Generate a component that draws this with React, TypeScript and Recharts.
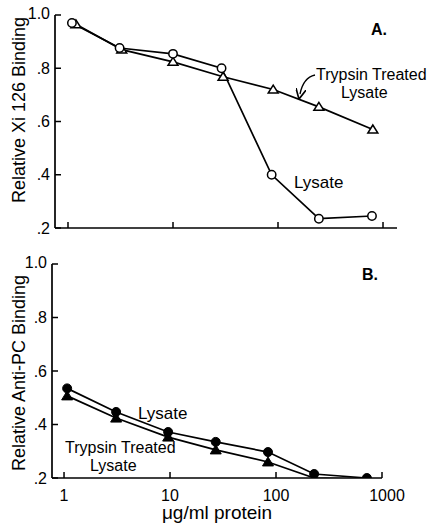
import React from "react";
import { LineChart, Line, XAxis, YAxis } from "recharts";

const xTicks = [1, 10, 100, 1000];
const yTicks = [0.2, 0.4, 0.6, 0.8, 1.0];
const yTickLabels = [".2", ".4", ".6", ".8", "1.0"];

const concALysate = [1.09, 3.1, 10, 29, 87, 245, 785];
const bindALysate = [0.97, 0.876, 0.854, 0.8, 0.4, 0.235, 0.245];
const concATrypsin = [1.19, 3.25, 10, 30, 90, 245, 800];
const bindATrypsin = [0.965, 0.87, 0.824, 0.768, 0.72, 0.655, 0.57];

const concB = [1.07, 3.1, 9.6, 27, 84, 229, 720];
const bindBLysate = [0.535, 0.447, 0.372, 0.335, 0.297, 0.215, 0.2];
const bindBTrypsin = [0.507, 0.424, 0.353, 0.305, 0.26, 0.2, 0.195];

const zip = (xs: number[], ys: number[]) => xs.map((x, i) => ({ x, y: ys[i] }));

const FONT = "'Liberation Sans', Arial, sans-serif";
const SW = 1.7;

const OpenCircle = (p: any) =>
  p.cx == null ? null : (
    <circle cx={p.cx} cy={p.cy} r={4.2} fill="#fff" stroke="#000" strokeWidth={1.5} />
  );
const OpenTriangle = (p: any) =>
  p.cx == null ? null : (
    <polygon
      points={`${p.cx},${p.cy - 4.5} ${p.cx - 5},${p.cy + 3.5} ${p.cx + 5},${p.cy + 3.5}`}
      fill="#fff"
      stroke="#000"
      strokeWidth={1.5}
    />
  );
const FilledCircle = (p: any) =>
  p.cx == null ? null : <circle cx={p.cx} cy={p.cy} r={4.5} fill="#000" stroke="#000" />;
const FilledTriangle = (p: any) =>
  p.cx == null ? null : (
    <polygon
      points={`${p.cx},${p.cy - 5} ${p.cx - 5.5},${p.cy + 4} ${p.cx + 5.5},${p.cy + 4}`}
      fill="#000"
      stroke="#000"
    />
  );

const YTick = (p: any) => {
  const v = p.payload.value;
  const i = yTicks.findIndex((t) => Math.abs(t - v) < 1e-6);
  return (
    <g>
      <line x1={p.x} y1={p.y} x2={p.x + 6} y2={p.y} stroke="#000" strokeWidth={1.5} />
      <text
        x={p.x - 5}
        y={p.y + (v === 1 ? -2 : 0)}
        textAnchor="end"
        dominantBaseline="central"
        fontSize={16}
        fontFamily={FONT}
        fill="#000"
      >
        {yTickLabels[i]}
      </text>
    </g>
  );
};

const XTickA = (p: any) => (
  <line x1={p.x} y1={p.y} x2={p.x} y2={p.y - 6} stroke="#000" strokeWidth={1.5} />
);
const XTickB = (p: any) => (
  <g>
    <line x1={p.x} y1={p.y} x2={p.x} y2={p.y - 6} stroke="#000" strokeWidth={1.5} />
    <text
      x={p.x + (p.payload.value === 1000 ? 5 : 0)}
      y={p.y + 17}
      textAnchor="middle"
      dominantBaseline="central"
      fontSize={16}
      fontFamily={FONT}
      fill="#000"
    >
      {String(p.payload.value)}
    </text>
  </g>
);

const txt = { fontFamily: FONT, fill: "#000" } as const;

export default function App() {
  return (
    <div style={{ position: "absolute", left: 0, top: 0, width: 428, height: 527, background: "#fff" }}>
      <div style={{ position: "absolute", left: 0, top: 0 }}>
        <LineChart width={428} height={250} margin={{ top: 15, right: 31, left: 0, bottom: 0 }}>
          <XAxis
            dataKey="x"
            type="number"
            scale="log"
            domain={[0.752, 1359]}
            allowDataOverflow
            ticks={xTicks}
            tick={<XTickA />}
            tickSize={0}
            tickMargin={0}
            height={22}
            stroke="#000"
            strokeWidth={SW}
          />
          <YAxis
            type="number"
            domain={[0.2, 1.0]}
            ticks={yTicks}
            tick={<YTick />}
            tickSize={0}
            tickMargin={0}
            width={55}
            stroke="#000"
            strokeWidth={SW}
            allowDataOverflow
          />
          <Line
            data={zip(concATrypsin, bindATrypsin)}
            dataKey="y"
            type="linear"
            stroke="#000"
            strokeWidth={SW}
            dot={<OpenTriangle />}
            isAnimationActive={false}
          />
          <Line
            data={zip(concALysate, bindALysate)}
            dataKey="y"
            type="linear"
            stroke="#000"
            strokeWidth={SW}
            dot={<OpenCircle />}
            isAnimationActive={false}
          />
        </LineChart>
      </div>
      <div style={{ position: "absolute", left: 0, top: 250 }}>
        <LineChart width={428} height={277} margin={{ top: 14, right: 46, left: 0, bottom: 0 }}>
          <XAxis
            dataKey="x"
            type="number"
            scale="log"
            domain={[0.77, 1000]}
            allowDataOverflow
            ticks={xTicks}
            tick={<XTickB />}
            tickSize={0}
            tickMargin={0}
            height={49}
            stroke="#000"
            strokeWidth={SW}
          />
          <YAxis
            type="number"
            domain={[0.2, 1.0]}
            ticks={yTicks}
            tick={<YTick />}
            tickSize={0}
            tickMargin={0}
            width={52}
            stroke="#000"
            strokeWidth={SW}
            allowDataOverflow
          />
          <Line
            data={zip(concB, bindBTrypsin)}
            dataKey="y"
            type="linear"
            stroke="#000"
            strokeWidth={SW}
            dot={<FilledTriangle />}
            isAnimationActive={false}
          />
          <Line
            data={zip(concB, bindBLysate)}
            dataKey="y"
            type="linear"
            stroke="#000"
            strokeWidth={SW}
            dot={<FilledCircle />}
            isAnimationActive={false}
          />
        </LineChart>
      </div>
      <svg
        width={428}
        height={527}
        style={{ position: "absolute", left: 0, top: 0, pointerEvents: "none" }}
      >
        <defs>
          <marker id="ah" markerWidth="8" markerHeight="8" refX="4" refY="4" orient="auto">
            <path d="M0,0 L8,4 L0,8" fill="none" stroke="#000" strokeWidth={1.3} />
          </marker>
        </defs>
        <text {...txt} x={25} y={110} fontSize={18} textAnchor="middle" transform="rotate(-90 25 110)">
          Relative Xi 126 Binding
        </text>
        <text {...txt} x={25} y={373} fontSize={18} textAnchor="middle" transform="rotate(-90 25 373)">
          Relative Anti-PC Binding
        </text>
        <text {...txt} x={371} y={35} fontSize={16} fontWeight="bold">A.</text>
        <text {...txt} x={362} y={280} fontSize={16} fontWeight="bold">B.</text>
        <text {...txt} x={316} y={80} fontSize={16}>Trypsin Treated</text>
        <text {...txt} x={341} y={98} fontSize={16}>Lysate</text>
        <path d="M315,75 C306,77 302,84 300,94" fill="none" stroke="#000" strokeWidth={1.3} markerEnd="url(#ah)" />
        <text {...txt} x={294} y={188} fontSize={17}>Lysate</text>
        <text {...txt} x={138} y={419} fontSize={17}>Lysate</text>
        <text {...txt} x={65} y={453} fontSize={16}>Trypsin Treated</text>
        <text {...txt} x={90} y={471} fontSize={16}>Lysate</text>
        <text {...txt} x={217} y={519} fontSize={19} textAnchor="middle">μg/ml protein</text>
      </svg>
    </div>
  );
}
